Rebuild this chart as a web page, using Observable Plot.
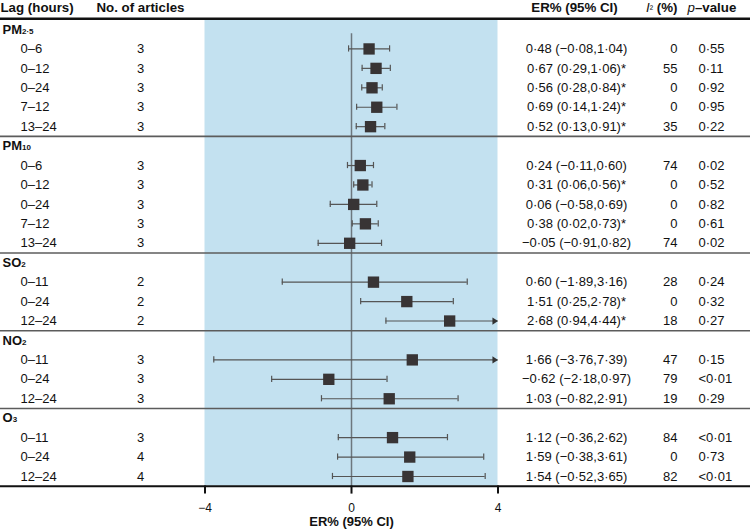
<!DOCTYPE html>
<html><head><meta charset="utf-8">
<script src="https://cdn.jsdelivr.net/npm/d3@7"></script>
<script src="https://cdn.jsdelivr.net/npm/@observablehq/plot@0.6"></script>
<style>
body{margin:0;background:#fff;}
#chart svg{display:block;}
</style></head><body><div id="chart"></div>
<script>
// ---- data ----
const pollutants = ["PM2·5", "PM10", "SO2", "NO2", "O3"];
const pollutantMain = ["PM", "PM", "SO", "NO", "O"];
const pollutantSub = ["2·5", "10", "2", "2", "3"];
const rowPollutant = [0,0,0,0,0, 1,1,1,1,1, 2,2,2, 3,3,3, 4,4,4];
const lags = ["0–6","0–12","0–24","7–12","13–24", "0–6","0–12","0–24","7–12","13–24", "0–11","0–24","12–24", "0–11","0–24","12–24", "0–11","0–24","12–24"];
const articles = [3,3,3,3,3, 3,3,3,3,3, 2,2,2, 3,3,3, 3,4,4];
const er    = [0.48, 0.67, 0.56, 0.69, 0.52,  0.24, 0.31, 0.06, 0.38, -0.05,  0.60, 1.51, 2.68,  1.66, -0.62, 1.03,  1.12, 1.59, 1.54];
const lower = [-0.08, 0.29, 0.28, 0.14, 0.13, -0.11, 0.06, -0.58, 0.02, -0.91, -1.89, 0.25, 0.94, -3.76, -2.18, -0.82, -0.36, -0.38, -0.52];
const upper = [1.04, 1.06, 0.84, 1.24, 0.91,  0.60, 0.56, 0.69, 0.73, 0.82,  3.16, 2.78, 4.44,  7.39, 0.97, 2.91,  2.62, 3.61, 3.65];
const i2 = [0,55,0,0,35, 74,0,0,0,74, 28,0,18, 47,79,19, 84,0,82];
const pvals = ["0·55","0·11","0·92","0·95","0·22", "0·02","0·52","0·82","0·61","0·02", "0·24","0·32","0·27", "0·15","<0·01","0·29", "<0·01","0·73","<0·01"];
const xTicks = [-4, 0, 4];
const xDomain = [-4, 4];
const headers = ["Lag (hours)", "No. of articles", "ER% (95% CI)", "I² (%)", "p–value"];
const axisTitle = "ER% (95% CI)";

// ---- build table rows ----
const fmt = v => v.toFixed(2).replace(".", "·").replace("-", "−");
const groupRows = [], items = [], seps = [];
let r = 0;
pollutants.forEach((p, g) => {
  groupRows.push({row: r, g});
  r++;
  rowPollutant.forEach((pg, i) => {
    if (pg !== g) return;
    items.push({
      row: r, lag: lags[i], n: articles[i], er: er[i], lo: lower[i], hi: upper[i],
      i2: i2[i], p: pvals[i],
      erText: `${fmt(er[i])} (${fmt(lower[i])},${fmt(upper[i])})${lower[i] > 0 ? "*" : ""}`
    });
    r++;
  });
  if (g < pollutants.length - 1) seps.push(r - 0.5);
});
const lastRow = r - 1;
const caps = items.flatMap(d => [d.lo, d.hi].filter(v => v >= xDomain[0] && v <= xDomain[1]).map(v => ({row: d.row, v})));
const arrows = items.filter(d => d.hi > xDomain[1]);

const arrowHead = {
  draw(ctx, size) {
    const k = Math.sqrt(size / Math.PI) / 3;
    ctx.moveTo(0, 0);
    ctx.lineTo(-5.2 * k, -3.4 * k);
    ctx.lineTo(-5.2 * k, 3.4 * k);
    ctx.closePath();
  }
};

const F = "'Liberation Sans', Arial, Helvetica, sans-serif";
const svg = Plot.plot({
  width: 750, height: 531,
  marginLeft: 0, marginRight: 0, marginTop: 0, marginBottom: 45.4,
  style: {fontFamily: F, fontSize: "13px", color: "#111", background: "#fff", overflow: "visible"},
  x: {domain: xDomain, range: [204.5, 497.5], label: null},
  y: {domain: [0, lastRow], range: [29, 476], axis: null},
  marks: [
    Plot.rect([xDomain], {x1: d => d[0], x2: d => d[1], y1: -0.5, y2: lastRow + 0.5, fill: "#c3e1f0"}),
    Plot.ruleX([0], {y1: 0.22, y2: lastRow + 0.5, stroke: "#6d777e", strokeWidth: 1.5}),
    Plot.ruleY(seps, {stroke: "#5c5c5c", strokeWidth: 1.6}),
    Plot.ruleY([-0.5], {stroke: "#111", strokeWidth: 2.5, dy: -1}),
    Plot.ruleY([lastRow + 0.5], {stroke: "#111", strokeWidth: 2}),
    Plot.ruleY(items, {y: "row", x1: d => Math.max(d.lo, xDomain[0]), x2: d => Math.min(d.hi, xDomain[1]), stroke: "#555", strokeWidth: 1.2}),
    Plot.ruleX(caps, {x: "v", y1: d => d.row - 0.16, y2: d => d.row + 0.16, stroke: "#555", strokeWidth: 1.2}),
    Plot.dot(arrows, {x: () => xDomain[1], y: "row", symbol: arrowHead, r: 3.2, fill: "#333", stroke: "none"}),
    Plot.dot(items, {x: "er", y: "row", symbol: "square", r: 6.4, fill: "#383435", stroke: "none"}),
    // table columns
    Plot.text(groupRows, {y: "row", text: d => pollutants[d.g], frameAnchor: "left", dx: 2, textAnchor: "start", fontWeight: "bold", fontSize: 13}),
    Plot.text(items, {y: "row", text: "lag", frameAnchor: "left", dx: 20, textAnchor: "start", fontSize: 13}),
    Plot.text(items, {y: "row", text: d => String(d.n), frameAnchor: "left", dx: 140, textAnchor: "middle", fontSize: 13}),
    Plot.text(items, {y: "row", text: "erText", frameAnchor: "left", dx: 576, textAnchor: "middle", fontSize: 13}),
    Plot.text(items, {y: "row", text: d => String(d.i2), frameAnchor: "left", dx: 677, textAnchor: "end", fontSize: 13}),
    Plot.text(items, {y: "row", text: "p", frameAnchor: "left", dx: 698, textAnchor: "start", fontSize: 13}),
    // headers
    Plot.text([headers[0]], {y: -1, frameAnchor: "left", dx: 0, dy: -2, textAnchor: "start", fontWeight: "bold", fontSize: 13.3}),
    Plot.text([headers[1]], {y: -1, frameAnchor: "left", dx: 96, dy: -2, textAnchor: "start", fontWeight: "bold", fontSize: 13.3}),
    Plot.text([headers[2]], {y: -1, frameAnchor: "left", dx: 574, dy: -2, textAnchor: "middle", fontWeight: "bold", fontSize: 13.3}),
    Plot.text([headers[3]], {y: -1, frameAnchor: "left", dx: 677, dy: -2, textAnchor: "end", fontWeight: "bold", fontSize: 13.3}),
    Plot.text([headers[4]], {y: -1, frameAnchor: "left", dx: 687, dy: -2, textAnchor: "start", fontWeight: "bold", fontSize: 13.3}),
    // axis
    Plot.axisX({ticks: xTicks, tickSize: 8, tickPadding: 9, strokeWidth: 2, stroke: "#111", fill: "#111", fontSize: 12, label: null,
      tickFormat: d => d < 0 ? "−" + (-d) : String(d)}),
    Plot.text([axisTitle], {x: () => d3.mean(xDomain), frameAnchor: "bottom", dy: 40, fontWeight: "bold", fontSize: 13})
  ]
});

// subscripts / italics as real text
const NS = "http://www.w3.org/2000/svg";
function rebuild(t, parts) {
  t.textContent = "";
  for (const [s, attrs] of parts) {
    const ts = document.createElementNS(NS, "tspan");
    ts.textContent = s;
    for (const k in attrs) ts.setAttribute(k, attrs[k]);
    t.appendChild(ts);
  }
}
svg.querySelectorAll("text").forEach(t => {
  const s = t.textContent;
  const g = pollutants.indexOf(s);
  if (g >= 0) rebuild(t, [[pollutantMain[g], {}], [pollutantSub[g], {"font-size": "8px"}]]);
  else if (s === headers[3]) rebuild(t, [["I", {"font-style": "italic", "font-weight": "normal"}], ["²", {"font-weight": "normal", "font-size": "10px"}], [" (%)", {}]]);
  else if (s === headers[4]) rebuild(t, [["p", {"font-style": "italic", "font-weight": "normal"}], ["–value", {}]]);
});
document.getElementById("chart").appendChild(svg);
</script></body></html>
